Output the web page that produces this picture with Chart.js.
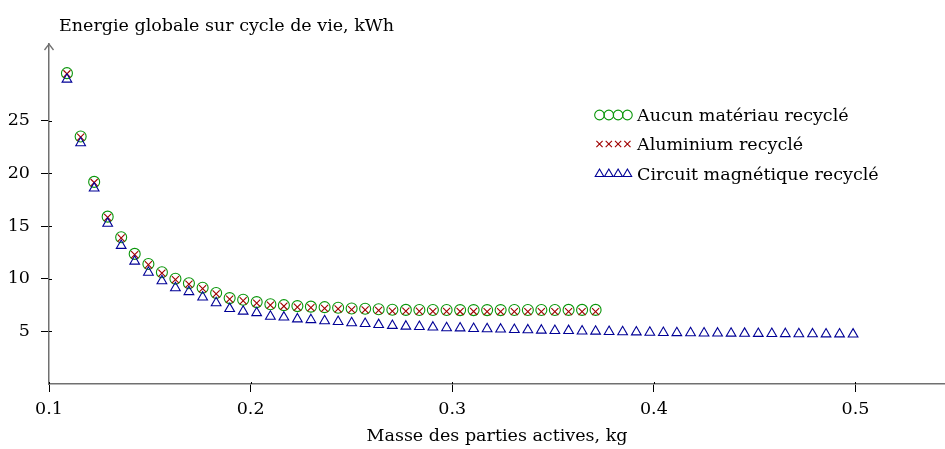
<!DOCTYPE html>
<html><head><meta charset="utf-8">
<script src="https://cdn.jsdelivr.net/npm/chart.js@4/dist/chart.umd.min.js"></script>
<style>html,body{margin:0;padding:0;background:#fff;}#wrap{width:945px;height:449px;position:relative;}</style>
</head><body><div id="wrap"><canvas id="c" width="945" height="449"></canvas></div>
<script>
// ---- data ----
const masses = [0.1089,0.1157,0.1224,0.1291,0.1358,0.1425,0.1493,0.1560,0.1627,0.1694,
  0.1762,0.1829,0.1896,0.1963,0.2030,0.2098,0.2165,0.2232,0.2299,0.2367,
  0.2434,0.2501,0.2568,0.2635,0.2703,0.2770,0.2837,0.2904,0.2972,0.3039,
  0.3106,0.3173,0.3240,0.3308,0.3375,0.3442,0.3509,0.3577,0.3644,0.3711,
  0.3778,0.3845,0.3913,0.3980,0.4047,0.4114,0.4182,0.4249,0.4316,0.4383,
  0.4450,0.4518,0.4585,0.4652,0.4719,0.4787,0.4854,0.4921,0.4988];
const energyNone = [29.53,23.51,19.20,15.90,13.94,12.36,11.40,10.62,10.00,9.57,
  9.14,8.64,8.16,8.00,7.78,7.58,7.49,7.40,7.35,7.30,
  7.24,7.17,7.15,7.10,7.05,7.04,7.03,7.03,7.03,7.02,
  7.02,7.02,7.02,7.03,7.03,7.03,7.03,7.04,7.04,7.04];
const energyAlu = [29.47,23.45,19.14,15.83,13.87,12.29,11.33,10.54,9.92,9.49,
  9.06,8.56,8.07,7.91,7.69,7.49,7.39,7.30,7.25,7.19,
  7.13,7.06,7.04,6.99,6.93,6.92,6.91,6.90,6.90,6.89,
  6.89,6.88,6.88,6.88,6.87,6.87,6.87,6.87,6.87,6.87];
const energyCore = [28.94,22.90,18.60,15.25,13.15,11.65,10.60,9.79,9.13,8.76,
  8.25,7.70,7.15,6.90,6.76,6.42,6.34,6.17,6.10,5.99,
  5.92,5.80,5.73,5.63,5.55,5.48,5.45,5.39,5.33,5.31,
  5.26,5.23,5.20,5.16,5.13,5.10,5.07,5.06,5.02,5.00,
  4.97,4.95,4.93,4.90,4.88,4.86,4.85,4.83,4.82,4.81,
  4.80,4.79,4.78,4.77,4.76,4.75,4.74,4.74,4.73];
const seriesNames = ['Aucun matériau recyclé','Aluminium recyclé','Circuit magnétique recyclé'];
const xTicks = [0.1,0.2,0.3,0.4,0.5];
const yTicks = [5,10,15,20,25];
const yTitle = 'Energie globale sur cycle de vie, kWh';
const xTitle = 'Masse des parties actives, kg';

// ---- styles ----
const FONT = "'DejaVu Serif', serif";
const FSIZE = 17.5;
const axisColor = '#707070';
const styles = [
  {color:'#0a960a', pointStyle:'circle', radius:5.5, width:1.1},
  {color:'#a00000', pointStyle:'crossRot', radius:5, width:1.1},
  {color:'#000096', pointStyle:'triangle', radius:5.6, width:1.1}
];
const seriesData = [energyNone, energyAlu, energyCore];

function pts(xs, ys){ return ys.map((y,i)=>({x:xs[i], y:y})); }

Chart.defaults.font.family = FONT;
Chart.defaults.font.size = FSIZE;
Chart.defaults.color = '#000';

const decor = {
  id:'decor',
  afterDraw(chart){
    const {ctx, chartArea:a} = chart;
    ctx.save();
    // y axis arrow head
    ctx.strokeStyle = axisColor; ctx.lineWidth = 1.3;
    ctx.beginPath(); ctx.moveTo(a.left-4.5, a.top+6); ctx.lineTo(a.left, a.top); ctx.lineTo(a.left+4.5, a.top+6); ctx.stroke();
    // small inner parts of the tick marks
    ctx.strokeStyle = '#000'; ctx.lineWidth = 1;
    const ys = chart.scales.y, xs = chart.scales.x;
    yTicks.forEach(v => { const p = Math.round(ys.getPixelForValue(v)) + 0.5; ctx.beginPath(); ctx.moveTo(a.left, p); ctx.lineTo(a.left + 3, p); ctx.stroke(); });
    xTicks.forEach(v => { const p = Math.round(xs.getPixelForValue(v)) + 0.5; ctx.beginPath(); ctx.moveTo(p, a.bottom); ctx.lineTo(p, a.bottom - 2); ctx.stroke(); });
    // y title
    ctx.fillStyle = '#000';
    ctx.font = FSIZE + 'px ' + FONT;
    ctx.textAlign = 'left'; ctx.textBaseline = 'alphabetic';
    ctx.fillText(yTitle, a.left + 10, 31);
    // legend
    const x0 = a.left + 550.5, dx = 9.3, rows = [a.top + 71, a.top + 100, a.top + 130];
    const tx = a.left + 588;
    seriesNames.forEach((name, k) => {
      const s = styles[k];
      ctx.strokeStyle = s.color; ctx.fillStyle = 'rgba(0,0,0,0)'; ctx.lineWidth = s.width;
      for (let j = 0; j < 4; j++) {
        Chart.helpers.drawPoint(ctx, {pointStyle:s.pointStyle, radius: s.radius*0.88, rotation:0, borderWidth:s.width}, x0 + j*dx, rows[k]);
      }
      ctx.fillStyle = '#000';
      ctx.textBaseline = 'middle';
      ctx.fillText(name, tx, rows[k] + 1);
    });
    ctx.restore();
  }
};

new Chart(document.getElementById('c'), {
  type:'scatter',
  data:{
    datasets: seriesNames.map((name,k)=>({
      label:name,
      data: pts(masses, seriesData[k]),
      showLine:false,
      pointStyle: styles[k].pointStyle,
      pointRadius: styles[k].radius,
      pointHoverRadius: styles[k].radius,
      pointBorderWidth: styles[k].width,
      borderColor: styles[k].color,
      backgroundColor: 'rgba(0,0,0,0)',
      order: 3-k
    }))
  },
  options:{
    responsive:false,
    devicePixelRatio:1,
    animation:false,
    layout:{autoPadding:false, padding:{top:44,right:0,left:0,bottom:0}},
    plugins:{legend:{display:false}, tooltip:{enabled:false}, title:{display:false}},
    scales:{
      x:{
        type:'linear', min:0.1, max:0.5444,
        afterBuildTicks: s => { s.ticks = xTicks.map(v=>({value:v})); },
        afterFit: s => { s.height = 65; },
        ticks:{padding:7, maxRotation:0, autoSkip:false, callback: v => String(v)},
        grid:{drawOnChartArea:false, drawTicks:true, tickLength:8, color:'#000', lineWidth:1},
        border:{color:axisColor, width:1.5},
        title:{display:true, text:xTitle, font:{size:FSIZE}, padding:{top:0,bottom:2}}
      },
      y:{
        type:'linear', min:0, max:32.3,
        afterBuildTicks: s => { s.ticks = yTicks.map(v=>({value:v})); },
        afterFit: s => { s.width = 49; },
        ticks:{padding:11, autoSkip:false, callback: v => String(v)},
        grid:{drawOnChartArea:false, drawTicks:true, tickLength:8, color:'#000', lineWidth:1},
        border:{color:axisColor, width:1.5}
      }
    }
  },
  plugins:[decor]
});
</script>
</body></html>
